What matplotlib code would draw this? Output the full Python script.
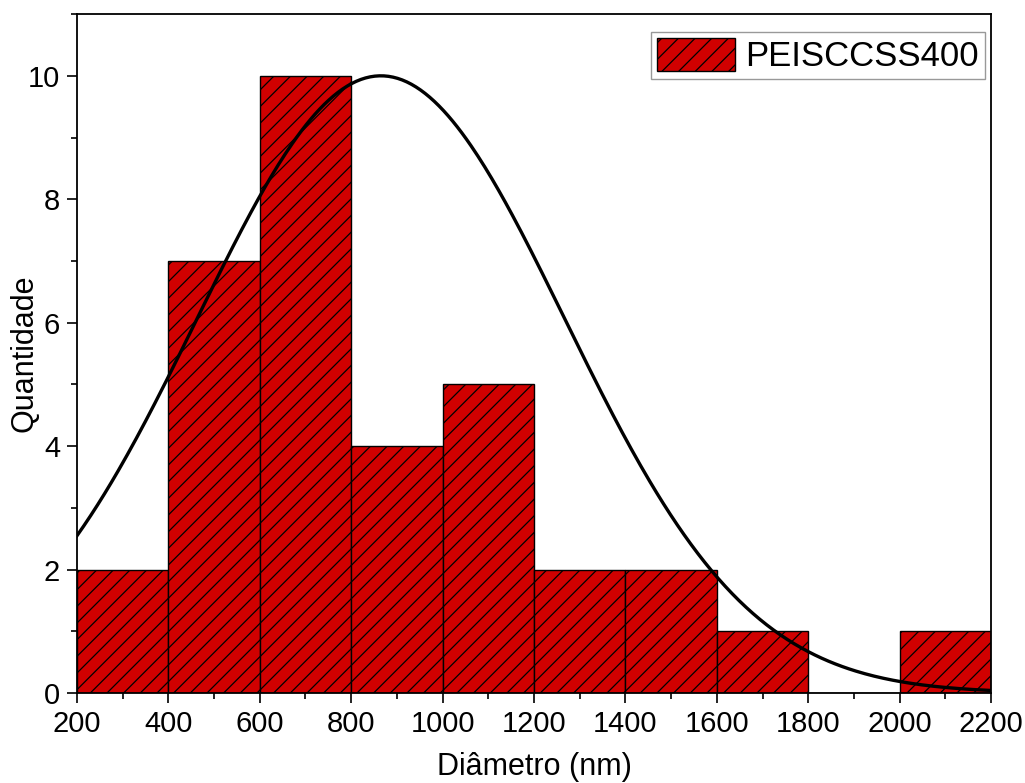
import numpy as np
import matplotlib.pyplot as plt
from matplotlib.ticker import MultipleLocator

plt.rcParams['font.family'] = ['Liberation Sans', 'DejaVu Sans']
plt.rcParams['hatch.linewidth'] = 0.9

# histogram bins (nm) and counts
bin_edges = [200, 400, 600, 800, 1000, 1200, 1400, 1600, 1800, 2000, 2200]
counts = [2, 7, 10, 4, 5, 2, 2, 1, 0, 1]

# normal fit parameters
fit_mu = 865
fit_sigma = 402
fit_amp = 10.0

fig = plt.figure(figsize=(10.25, 7.83), dpi=100)
ax = fig.add_axes([0.075, 0.115, 0.892, 0.867])

left = bin_edges[:-1]
widths = np.diff(bin_edges)
ax.bar(left, counts, width=widths, align='edge', color='#d00000',
       edgecolor='black', linewidth=1.0, hatch='//', label='PEISCCSS400')

xs = np.linspace(bin_edges[0], bin_edges[-1], 400)
ys = fit_amp * np.exp(-(xs - fit_mu) ** 2 / (2 * fit_sigma ** 2))
ax.plot(xs, ys, color='black', lw=2.4)

ax.set_xlim(200, 2200)
ax.set_ylim(0, 11)
ax.xaxis.set_major_locator(MultipleLocator(200))
ax.xaxis.set_minor_locator(MultipleLocator(100))
ax.yaxis.set_major_locator(MultipleLocator(2))
ax.yaxis.set_minor_locator(MultipleLocator(1))
ax.tick_params(which='both', direction='out', labelsize=21, width=1.2)
ax.tick_params(which='major', length=7, pad=5)
ax.tick_params(which='minor', length=4)
for s in ax.spines.values():
    s.set_linewidth(1.3)

ax.set_xlabel('Diâmetro (nm)', fontsize=22, labelpad=10)
ax.set_ylabel('Quantidade', fontsize=22)
ax.yaxis.set_label_coords(-0.041, 0.5)

leg = ax.legend(loc='upper right', bbox_to_anchor=(0.9934, 0.9735),
                fontsize=25, fancybox=False, framealpha=1,
                edgecolor='#999999', handlelength=2.25, handleheight=1.1,
                borderpad=0.17, handletextpad=0.3, borderaxespad=0)

plt.savefig('out.png', dpi=100)
